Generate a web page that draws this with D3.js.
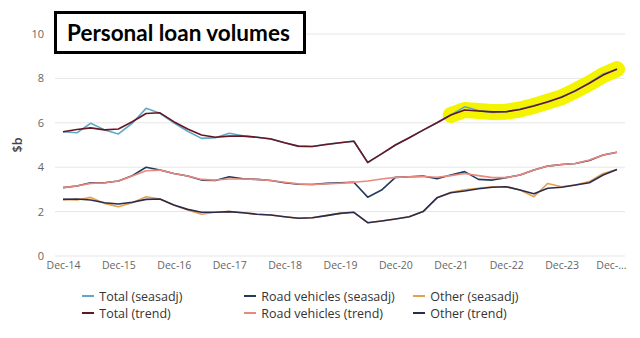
<!DOCTYPE html>
<html>
<head>
<meta charset="utf-8">
<script src="https://cdn.jsdelivr.net/npm/d3@7/dist/d3.min.js"></script>
<style>
  html, body { margin: 0; padding: 0; background: #fff; }
  svg { display: block; }
</style>
</head>
<body>
<svg id="chart" width="640" height="338"></svg>
<script>
// Quarterly periods, Dec-14 .. Dec-24
const periods = ["Dec-14","Mar-15","Jun-15","Sep-15","Dec-15","Mar-16","Jun-16","Sep-16","Dec-16","Mar-17","Jun-17","Sep-17","Dec-17","Mar-18","Jun-18","Sep-18","Dec-18","Mar-19","Jun-19","Sep-19","Dec-19","Mar-20","Jun-20","Sep-20","Dec-20","Mar-21","Jun-21","Sep-21","Dec-21","Mar-22","Jun-22","Sep-22","Dec-22","Mar-23","Jun-23","Sep-23","Dec-23","Mar-24","Jun-24","Sep-24","Dec-24"];

const totalSeasadj = [5.6,5.55,5.98,5.68,5.5,5.98,6.65,6.43,6.0,5.62,5.3,5.33,5.53,5.42,5.35,5.28,5.1,4.93,4.93,5.03,5.1,5.18,4.2,4.6,5.0,5.33,5.67,6.0,6.35,6.72,6.55,6.47,6.5,6.62,6.78,6.93,7.17,7.42,7.8,8.2,8.4];
const totalTrend = [5.6,5.7,5.77,5.68,5.72,6.05,6.42,6.45,6.05,5.72,5.45,5.35,5.4,5.4,5.35,5.27,5.1,4.95,4.93,5.02,5.1,5.17,4.22,4.6,5.0,5.33,5.67,6.0,6.35,6.58,6.53,6.49,6.5,6.6,6.76,6.95,7.15,7.45,7.78,8.15,8.42];
const roadSeasadj = [3.08,3.15,3.3,3.3,3.38,3.62,4.0,3.87,3.72,3.6,3.42,3.4,3.57,3.48,3.45,3.4,3.3,3.23,3.22,3.27,3.3,3.32,2.65,2.97,3.54,3.57,3.6,3.48,3.65,3.8,3.45,3.42,3.53,3.65,3.87,4.05,4.12,4.17,4.3,4.55,4.67];
const roadTrend = [3.08,3.15,3.27,3.3,3.38,3.6,3.84,3.87,3.72,3.6,3.45,3.42,3.47,3.47,3.45,3.4,3.32,3.25,3.22,3.25,3.28,3.32,3.38,3.47,3.54,3.57,3.58,3.55,3.62,3.72,3.62,3.53,3.53,3.65,3.87,4.05,4.12,4.17,4.32,4.55,4.67];
const otherSeasadj = [2.55,2.52,2.64,2.37,2.22,2.4,2.67,2.57,2.3,2.07,1.88,1.97,2.0,1.95,1.88,1.85,1.77,1.7,1.72,1.82,1.92,1.97,1.5,1.58,1.67,1.77,2.0,2.62,2.87,2.98,3.05,3.12,3.12,2.97,2.67,3.27,3.12,3.2,3.35,3.72,3.9];
const otherTrend = [2.55,2.57,2.52,2.4,2.34,2.42,2.55,2.57,2.3,2.1,1.97,1.97,2.0,1.95,1.88,1.85,1.77,1.7,1.72,1.82,1.92,1.97,1.5,1.58,1.67,1.77,2.0,2.62,2.85,2.93,3.03,3.1,3.12,2.97,2.8,3.05,3.1,3.2,3.3,3.65,3.9];

const xTickLabels = ["Dec-14","Dec-15","Dec-16","Dec-17","Dec-18","Dec-19","Dec-20","Dec-21","Dec-22","Dec-23","Dec-..."];
const yTicks = [0,2,4,6,8,10];
const seriesNames = ["Total (seasadj)","Road vehicles (seasadj)","Other (seasadj)","Total (trend)","Road vehicles (trend)","Other (trend)"];
const seriesColors = ["#5fa8c8","#233a5c","#e5a04e","#661525","#e8887e","#2b2b4f"];
const seriesData = [totalSeasadj, roadSeasadj, otherSeasadj, totalTrend, roadTrend, otherTrend];
const highlightStart = "Dec-21";
const titleText = "Personal loan volumes";
const yAxisTitle = "$b";

const svg = d3.select("#chart");
const x = d3.scaleLinear().domain([0, periods.length - 1]).range([63, 617]);
const y = d3.scaleLinear().domain([0, 10]).range([256, 34]);
const font = "'Open Sans', sans-serif";

// gridlines
svg.append("g").selectAll("line").data(yTicks).join("line")
  .attr("x1", 55).attr("x2", 625)
  .attr("y1", d => y(d)).attr("y2", d => y(d))
  .attr("stroke", "#e6e6e6").attr("stroke-width", 1);

// y tick labels
svg.append("g").selectAll("text").data(yTicks).join("text")
  .attr("x", 44).attr("y", d => y(d) + 4)
  .attr("text-anchor", "end")
  .attr("font-family", font).attr("font-size", 11).attr("fill", "#666")
  .text(d => d);

// x tick labels
const xAxis = d3.axisBottom(x)
  .tickValues(xTickLabels.map((d, i) => i * 4))
  .tickFormat((d, i) => xTickLabels[i])
  .tickSize(0).tickPadding(0);
const gx = svg.append("g").attr("transform", "translate(0,262)").call(xAxis);
gx.select(".domain").remove();
gx.selectAll("text").attr("font-family", font).attr("font-size", 10.5).attr("fill", "#666")
  .attr("dy", "0.71em");
gx.selectAll(".tick").filter((d, i) => i === xTickLabels.length - 1)
  .select("text").attr("text-anchor", "end").attr("dx", 9);

// y axis title
svg.append("text")
  .attr("transform", `translate(22,${y(5)}) rotate(-90)`)
  .attr("text-anchor", "middle")
  .attr("font-family", font).attr("font-size", 12.5).attr("font-weight", 600).attr("fill", "#444")
  .text(yAxisTitle);

// highlighter
const hi = periods.indexOf(highlightStart);
const line = d3.line().x((d, i) => x(i)).y(d => y(d));
const hiLine = d3.line().x(d => x(d[0])).y(d => y(d[1]));
svg.append("path")
  .attr("d", hiLine(totalTrend.map((v, i) => [i, v]).filter(d => d[0] >= hi)))
  .attr("fill", "none").attr("stroke", "#f4f400").attr("stroke-width", 16)
  .attr("stroke-linecap", "round").attr("stroke-linejoin", "round");

// series
svg.append("g").selectAll("path").data(seriesData).join("path")
  .attr("d", d => line(d))
  .attr("fill", "none")
  .attr("stroke", (d, i) => seriesColors[i])
  .attr("stroke-width", 1.6)
  .attr("stroke-linejoin", "round");

// legend
const legCols = [82, 244, 413];
const legRows = [296, 313];
const leg = svg.append("g").selectAll("g").data(seriesNames).join("g")
  .attr("transform", (d, i) => `translate(${legCols[i % 3]},${legRows[Math.floor(i / 3)]})`);
leg.append("line").attr("x1", 0).attr("x2", 12).attr("y1", 0).attr("y2", 0)
  .attr("stroke", (d, i) => seriesColors[i]).attr("stroke-width", 2);
leg.append("text").attr("x", 14).attr("y", 4.5)
  .attr("font-family", font).attr("font-size", 12.5).attr("fill", "#333")
  .text(d => "\u00a0" + d);

// title box
svg.append("rect").attr("x", 55.5).attr("y", 12.5).attr("width", 249).attr("height", 40)
  .attr("fill", "#fff").attr("stroke", "#000").attr("stroke-width", 3);
svg.append("text").attr("x", 67).attr("y", 41)
  .attr("font-family", "Lato, 'Open Sans', sans-serif").attr("font-size", 22.5).attr("font-weight", 700)
  .attr("fill", "#000").text(titleText);
</script>
</body>
</html>
